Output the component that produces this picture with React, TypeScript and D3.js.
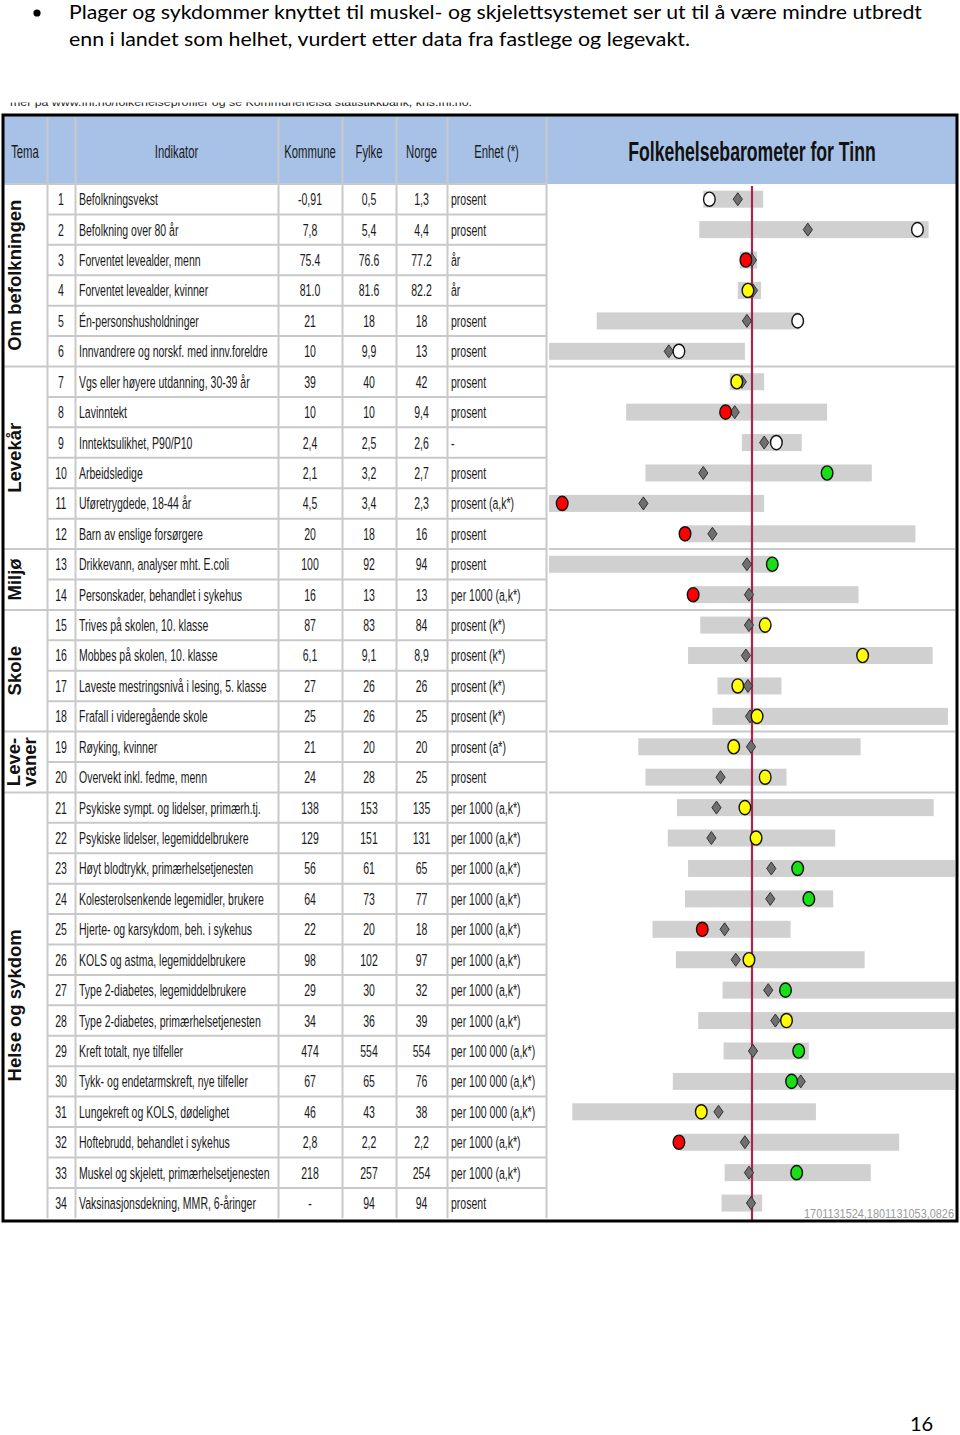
import React from 'react';
import * as d3 from 'd3';

// ---- data ----
const indicators = [
  'Befolkningsvekst', 'Befolkning over 80 år', 'Forventet levealder, menn', 'Forventet levealder, kvinner',
  'Én-personshusholdninger', 'Innvandrere og norskf. med innv.foreldre', 'Vgs eller høyere utdanning, 30-39 år',
  'Lavinntekt', 'Inntektsulikhet, P90/P10', 'Arbeidsledige', 'Uføretrygdede, 18-44 år', 'Barn av enslige forsørgere',
  'Drikkevann, analyser mht. E.coli', 'Personskader, behandlet i sykehus', 'Trives på skolen, 10. klasse',
  'Mobbes på skolen, 10. klasse', 'Laveste mestringsnivå i lesing, 5. klasse', 'Frafall i videregående skole',
  'Røyking, kvinner', 'Overvekt inkl. fedme, menn', 'Psykiske sympt. og lidelser, primærh.tj.',
  'Psykiske lidelser, legemiddelbrukere', 'Høyt blodtrykk, primærhelsetjenesten', 'Kolesterolsenkende legemidler, brukere',
  'Hjerte- og karsykdom, beh. i sykehus', 'KOLS og astma, legemiddelbrukere', 'Type 2-diabetes, legemiddelbrukere',
  'Type 2-diabetes, primærhelsetjenesten', 'Kreft totalt, nye tilfeller', 'Tykk- og endetarmskreft, nye tilfeller',
  'Lungekreft og KOLS, dødelighet', 'Hoftebrudd, behandlet i sykehus', 'Muskel og skjelett, primærhelsetjenesten',
  'Vaksinasjonsdekning, MMR, 6-åringer'
];
const kommuneVals = ['-0,91', '7,8', '75.4', '81.0', '21', '10', '39', '10', '2,4', '2,1', '4,5', '20', '100', '16', '87', '6,1', '27', '25', '21', '24', '138', '129', '56', '64', '22', '98', '29', '34', '474', '67', '46', '2,8', '218', '-'];
const fylkeVals = ['0,5', '5,4', '76.6', '81.6', '18', '9,9', '40', '10', '2,5', '3,2', '3,4', '18', '92', '13', '83', '9,1', '26', '26', '20', '28', '153', '151', '61', '73', '20', '102', '30', '36', '554', '65', '43', '2,2', '257', '94'];
const norgeVals = ['1,3', '4,4', '77.2', '82.2', '18', '13', '42', '9,4', '2,6', '2,7', '2,3', '16', '94', '13', '84', '8,9', '26', '25', '20', '25', '135', '131', '65', '77', '18', '97', '32', '39', '554', '76', '38', '2,2', '254', '94'];
const units = [
  'prosent', 'prosent', 'år', 'år', 'prosent', 'prosent', 'prosent', 'prosent', '-', 'prosent', 'prosent (a,k*)', 'prosent',
  'prosent', 'per 1000 (a,k*)', 'prosent (k*)', 'prosent (k*)', 'prosent (k*)', 'prosent (k*)', 'prosent (a*)', 'prosent',
  'per 1000 (a,k*)', 'per 1000 (a,k*)', 'per 1000 (a,k*)', 'per 1000 (a,k*)', 'per 1000 (a,k*)', 'per 1000 (a,k*)',
  'per 1000 (a,k*)', 'per 1000 (a,k*)', 'per 100 000 (a,k*)', 'per 100 000 (a,k*)', 'per 100 000 (a,k*)',
  'per 1000 (a,k*)', 'per 1000 (a,k*)', 'prosent'
];
const themeNames = ['Om befolkningen', 'Levekår', 'Miljø', 'Skole', 'Leve-|vaner', 'Helse og sykdom'];
const themeSizes = [6, 6, 2, 4, 2, 14];

// barometer, standardised relative to Norway (0)
const barLow = [-0.48, -0.52, -0.12, -0.14, -1.53, -2.0, -0.22, -1.24, -0.10, -1.05, -2.0, -0.64, -2.0, -0.58, -0.51, -0.63, -0.34, -0.39, -1.12, -1.05, -0.74, -0.83, -0.63, -0.66, -0.98, -0.75, -0.29, -0.53, -0.28, -0.78, -1.77, -0.71, -0.27, -0.30];
const barHigh = [0.11, 1.74, 0.05, 0.09, 0.47, -0.07, 0.12, 0.74, 0.49, 1.18, 0.12, 1.61, 0.21, 1.05, 0.16, 1.78, 0.29, 1.93, 1.07, 0.34, 1.79, 0.82, 2.0, 0.80, 0.38, 1.11, 2.0, 2.0, 0.56, 2.0, 0.63, 1.45, 1.17, 0.10];
const fylkeScore = [-0.14, 0.55, 0.0, 0.01, -0.05, -0.82, -0.10, -0.17, 0.12, -0.48, -1.07, -0.39, -0.05, -0.03, -0.03, -0.06, -0.04, -0.02, -0.01, -0.31, -0.35, -0.40, 0.19, 0.18, -0.27, -0.16, 0.16, 0.23, 0.01, 0.48, -0.33, -0.07, -0.03, -0.01];
const kommuneScore = [-0.42, 1.63, -0.06, -0.04, 0.45, -0.72, -0.15, -0.26, 0.24, 0.74, -1.87, -0.66, 0.20, -0.58, 0.13, 1.09, -0.14, 0.05, -0.18, 0.13, -0.07, 0.04, 0.45, 0.56, -0.49, -0.03, 0.33, 0.34, 0.46, 0.39, -0.50, -0.72, 0.44, null];
const kommuneFlag = ['w', 'w', 'r', 'y', 'w', 'w', 'y', 'r', 'w', 'g', 'r', 'r', 'g', 'r', 'y', 'y', 'y', 'y', 'y', 'y', 'y', 'y', 'g', 'g', 'r', 'y', 'g', 'y', 'g', 'g', 'y', 'r', 'g', ''];

const flagColor: Record<string, string> = { w: '#ffffff', r: '#ff0000', y: '#ffff00', g: '#18e018' };

const arial = "'Liberation Sans', Arial, sans-serif";
const body = "Lato, 'Open Sans', sans-serif";

export default function App() {
  const W = 960, H = 1435;
  const top = 115, headBottom = 184, rowsBottom = 1218.3, bottom = 1221;
  const left = 3, right = 957;
  const colEdges = [left, 47, 75, 278, 342, 396, 447, 546, right];
  const baroX0 = 547, baroX1 = right;

  const rows = d3.range(indicators.length);
  const y = d3.scaleBand<number>().domain(rows).range([headBottom, rowsBottom]);
  const x = d3.scaleLinear().domain([-2, 2]).range([549, 955]);
  const rc = (i: number) => (y(i) as number) + y.bandwidth() / 2;

  // theme groups
  const groupStarts = themeSizes.map((_, i) => d3.sum(themeSizes.slice(0, i)));
  const groups = themeNames.map((name, i) => ({
    name,
    y0: y(groupStarts[i]) as number,
    y1: (y(groupStarts[i] + themeSizes[i] - 1) as number) + y.bandwidth()
  }));

  const grid = '#c9c9c9';
  const headers = ['Tema', '', 'Indikator', 'Kommune', 'Fylke', 'Norge', 'Enhet (*)'];

  // narrow, tall text like the original (Arial Narrow stretched)
  const cellText = (tx: number, ty: number, s: string, anchor: string, size = 13) => (
    <text transform={`translate(${tx},${ty}) scale(0.81,1.28)`} textAnchor={anchor} dominantBaseline="central"
      fontFamily={arial} fontSize={size} fill="#1a1a1a">{s}</text>
  );

  const colMid = (c: number) => (colEdges[c] + colEdges[c + 1]) / 2;

  return (
    <svg width={W} height={H} style={{ position: 'absolute', left: 0, top: 0, background: '#fff' }}>
      <defs>
        <clipPath id="cutTop"><rect x={0} y={102.5} width={W} height={10} /></clipPath>
      </defs>
      <rect width={W} height={H} fill="#fff" />

      {/* page text */}
      <circle cx={37} cy={13} r={3.6} fill="#000" />
      <text x={69} y={19} fontFamily={body} fontSize={20} textLength={853} lengthAdjust="spacingAndGlyphs" fill="#000">
        Plager og sykdommer knyttet til muskel- og skjelettsystemet ser ut til å være mindre utbredt
      </text>
      <text x={69} y={46} fontFamily={body} fontSize={20} textLength={621} lengthAdjust="spacingAndGlyphs" fill="#000">
        enn i landet som helhet, vurdert etter data fra fastlege og legevakt.
      </text>
      <g clipPath="url(#cutTop)">
        <text x={10} y={106} fontFamily={arial} fontSize={11} textLength={462} lengthAdjust="spacingAndGlyphs" fill="#222">
          mer på www.fhi.no/folkehelseprofiler og se Kommunehelsa statistikkbank, khs.fhi.no.
        </text>
      </g>
      <text x={910} y={1431} fontFamily={body} fontSize={20} fill="#000">16</text>

      {/* header */}
      <rect x={left} y={top} width={right - left} height={headBottom - top} fill="#a7c2e6" />
      {headers.map((h, i) => h && (
        <g key={'h' + i}>{cellText(colMid(i), 151, h, 'middle', 14)}</g>
      ))}
      <text transform={`translate(${(baroX0 + baroX1) / 2},151) scale(0.84,1.3)`} textAnchor="middle" dominantBaseline="central"
        fontFamily={arial} fontWeight="bold" fontSize={21} fill="#111">Folkehelsebarometer for Tinn</text>

      {/* row grid lines in table part */}
      {rows.map(i => (
        <line key={'rl' + i} x1={colEdges[1]} x2={colEdges[7]} y1={(y(i) as number)} y2={(y(i) as number)} stroke={grid} strokeWidth={2} />
      ))}
      {groups.map((g, i) => (
        <g key={'gl' + i}>
          <line x1={left} x2={colEdges[1]} y1={g.y0} y2={g.y0} stroke={grid} strokeWidth={2} />
          {i > 0 && <line x1={549} x2={955} y1={g.y0} y2={g.y0} stroke={grid} strokeWidth={2} />}
        </g>
      ))}
      {colEdges.slice(1, 8).map((cx, i) => (
        <line key={'cl' + i} x1={cx + 0.5} x2={cx + 0.5} y1={top + 2} y2={rowsBottom} stroke={grid} strokeWidth={2} />
      ))}

      {/* theme labels */}
      {groups.map((g, i) => {
        const lines = g.name.split('|');
        const cy = (g.y0 + g.y1) / 2;
        const cx = lines.length > 1 ? 21 : 14;
        return (
          <text key={'t' + i} transform={`translate(${cx},${cy}) rotate(-90)`} textAnchor="middle" dominantBaseline="central"
            fontFamily={arial} fontWeight="bold" fontSize={18.5} fill="#111">
            {lines.map((l, j) => (
              <tspan key={j} x={0} y={(j - (lines.length - 1) / 2) * 16}>{l}</tspan>
            ))}
          </text>
        );
      })}

      {/* table cells */}
      {rows.map(i => (
        <g key={'r' + i}>
          {cellText(colMid(1), rc(i), String(i + 1), 'middle')}
          {cellText(colEdges[2] + 4, rc(i), indicators[i], 'start')}
          {cellText(colMid(3), rc(i), kommuneVals[i], 'middle')}
          {cellText(colMid(4), rc(i), fylkeVals[i], 'middle')}
          {cellText(colMid(5), rc(i), norgeVals[i], 'middle')}
          {cellText(colEdges[6] + 4, rc(i), units[i], 'start')}
        </g>
      ))}

      {/* barometer bars */}
      {rows.map(i => (
        <rect key={'b' + i} x={x(barLow[i])} y={rc(i) - 8.5} width={x(barHigh[i]) - x(barLow[i])} height={17} fill="#d0d0d0" />
      ))}

      {/* Norway reference line */}
      <line x1={x(0)} x2={x(0)} y1={headBottom + 2} y2={bottom - 1} stroke="#a8264c" strokeWidth={2.2} />

      {/* fylke diamonds */}
      {rows.map(i => {
        const fx = x(fylkeScore[i]), cy = rc(i);
        return (
          <path key={'d' + i} d={`M${fx},${cy - 6.5}L${fx + 4.6},${cy}L${fx},${cy + 6.5}L${fx - 4.6},${cy}Z`}
            fill="#6f6f6f" stroke="#333" strokeWidth={1} />
        );
      })}

      {/* kommune circles */}
      {rows.map(i => kommuneScore[i] === null ? null : (
        <ellipse key={'k' + i} cx={x(kommuneScore[i] as number)} cy={rc(i)} rx={5.8} ry={7.1}
          fill={flagColor[kommuneFlag[i]]} stroke="#111" strokeWidth={1.4} />
      ))}

      <text x={954} y={1218} textAnchor="end" fontFamily={arial} fontSize={13} textLength={150} lengthAdjust="spacingAndGlyphs" fill="#9a9a9a">
        1701131524,1801131053,0826
      </text>

      {/* outer frame */}
      <rect x={left} y={top} width={right - left} height={bottom - top} fill="none" stroke="#000" strokeWidth={3} />
    </svg>
  );
}
